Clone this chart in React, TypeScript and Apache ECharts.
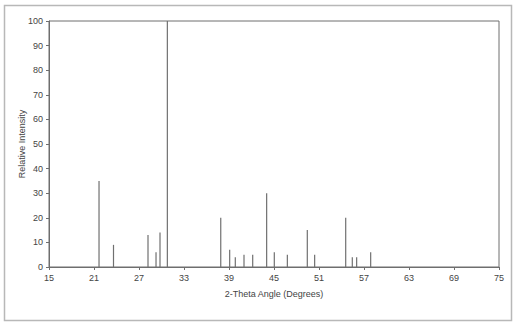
import React, { useEffect, useRef } from "react";
import * as echarts from "echarts";

const angles = [21.67, 23.6, 28.2, 29.27, 29.8, 30.78, 37.9, 39.09, 39.84, 41.0, 42.16, 44.02, 45.04, 46.78, 49.44, 50.42, 54.56, 55.44, 56.02, 57.89];
const intensities = [35, 9, 13, 6, 14, 100, 20, 7, 4, 5, 5, 30, 6, 5, 15, 5, 20, 4, 4, 6];
const xTicks = [15, 21, 27, 33, 39, 45, 51, 57, 63, 69, 75];

export default function App() {
  const ref = useRef<HTMLDivElement>(null);
  useEffect(() => {
    if (!ref.current) return;
    const chart = echarts.init(ref.current, null, { renderer: "svg" });
    const font = "Liberation Sans";
    const axisColor = "#6e6e6e";
    const textColor = "#444";
    chart.setOption({
      animation: false,
      backgroundColor: "#fff",
      graphic: [
        {
          type: "rect",
          shape: { x: 4.5, y: 5.5, width: 507, height: 315 },
          style: { fill: "none", stroke: "#b8b8b8", lineWidth: 1.5 },
          silent: true,
        },
      ],
      grid: { left: 49, right: 14, top: 21, bottom: 55, show: true, borderColor: axisColor, borderWidth: 1, backgroundColor: "transparent" },
      xAxis: {
        type: "value",
        min: 15,
        max: 75,
        interval: 6,
        name: "2-Theta Angle (Degrees)",
        nameLocation: "middle",
        nameGap: 22,
        nameMoveOverlap: false,
        nameTextStyle: { fontFamily: font, fontSize: 9, color: textColor },
        axisLine: { show: true, lineStyle: { color: axisColor } },
        axisTick: { show: true, length: 3, lineStyle: { color: axisColor } },
        axisLabel: { fontFamily: font, fontSize: 9, color: textColor, margin: 6, formatter: (v: number) => (xTicks.includes(v) ? String(v) : "") },
        splitLine: { show: false },
      },
      yAxis: {
        type: "value",
        min: 0,
        max: 100,
        interval: 10,
        name: "Relative Intensity",
        nameLocation: "middle",
        nameGap: 23,
        nameMoveOverlap: false,
        nameTextStyle: { fontFamily: font, fontSize: 9, color: textColor },
        axisLine: { show: true, lineStyle: { color: axisColor } },
        axisTick: { show: true, length: 3, lineStyle: { color: axisColor } },
        axisLabel: { fontFamily: font, fontSize: 9, color: textColor, margin: 6 },
        splitLine: { show: false },
      },
      series: [
        {
          type: "bar",
          data: angles.map((a, i) => [a, intensities[i]]),
          barWidth: 1.2,
          itemStyle: { color: "#707070" },
          silent: true,
        },
      ],
    });
    return () => chart.dispose();
  }, []);
  return <div ref={ref} style={{ position: "fixed", left: 0, top: 0, width: 513, height: 322 }} />;
}
